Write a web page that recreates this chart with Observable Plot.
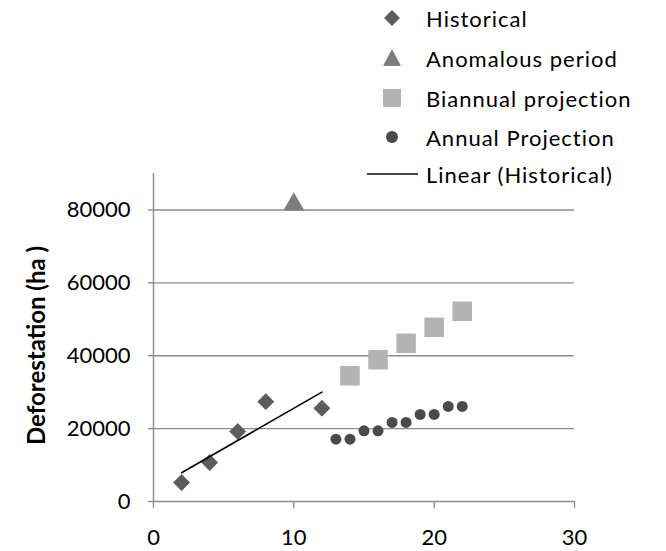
<!DOCTYPE html>
<html>
<head>
<meta charset="utf-8">
<script src="https://cdn.jsdelivr.net/npm/d3@7"></script>
<script src="https://cdn.jsdelivr.net/npm/@observablehq/plot@0.6"></script>
<style>
  html, body { margin: 0; padding: 0; background: #fff; }
  #wrap { position: relative; width: 666px; height: 551px; font-family: Lato, "Open Sans", sans-serif; }
  #legend { position: absolute; left: 0; top: 0; width: 666px; height: 200px; pointer-events: none; }
  .row { position: absolute; left: 360px; height: 30px; display: flex; align-items: center; font-size: 22px; letter-spacing: 1px; color: #000; }
  .row svg { width: 64px; height: 30px; flex: none; }
  .row span { margin-left: 2px; white-space: nowrap; }
</style>
</head>
<body>
<div id="wrap">
  <div id="chart"></div>
  <div id="legend"></div>
</div>
<script>
// ---- data ----
const histX = [2, 4, 6, 8, 12];
const histY = [5200, 10700, 19200, 27400, 25600];
const anomX = [10];
const anomY = [81500];
const biX = [14, 16, 18, 20, 22];
const biY = [34500, 38900, 43400, 47800, 52200];
const annX = [13, 14, 15, 16, 17, 18, 19, 20, 21, 22];
const annY = [17100, 17100, 19400, 19400, 21700, 21700, 23900, 23900, 26100, 26100];
const xTicks = [0, 10, 20, 30];
const yTicks = [0, 20000, 40000, 60000, 80000];
const seriesNames = ["Historical", "Anomalous period", "Biannual projection", "Annual Projection", "Linear (Historical)"];
const yLabel = "Deforestation (ha )";

const zip = (xs, ys) => xs.map((x, i) => ({x, y: ys[i]}));
const hist = zip(histX, histY);
const anom = zip(anomX, anomY);
const bi = zip(biX, biY);
const ann = zip(annX, annY);

const gridColor = "#8c8c8c";
const colors = {hist: "#5c5c5c", anom: "#7d7d7d", bi: "#b3b3b3", ann: "#4a4a4a"};

const chart = Plot.plot({
  width: 666,
  height: 551,
  marginLeft: 153,
  marginRight: 92,
  marginTop: 173,
  marginBottom: 50,
  style: {fontFamily: "Lato, 'Open Sans', sans-serif", fontSize: "22px", background: "white", overflow: "visible"},
  x: {domain: [0, 30]},
  y: {domain: [0, 90000]},
  marks: [
    Plot.gridY(yTicks.slice(1), {stroke: gridColor, strokeOpacity: 1, strokeWidth: 1.4}),
    Plot.ruleY([0], {stroke: gridColor, strokeWidth: 1.4}),
    Plot.ruleX([0], {stroke: gridColor, strokeWidth: 1.4}),
    Plot.axisY(yTicks, {tickSize: 5, tickPadding: 18, stroke: gridColor, strokeWidth: 1.4, fill: "black", tickFormat: d3.format("d"), label: null, fontSize: 22, letterSpacing: "0.6px"}),
    Plot.axisX(xTicks, {tickSize: 7, tickPadding: 21, stroke: gridColor, strokeWidth: 1.4, fill: "black", label: null, fontSize: 22, letterSpacing: "0.6px"}),
    Plot.text([yLabel], {frameAnchor: "left", textAnchor: "middle", dx: -116, dy: 8, rotate: -90, fontWeight: "bold", fontSize: 24, letterSpacing: "1.5px", fill: "black"}),
    Plot.dot(hist, {x: "x", y: "y", symbol: "diamond2", r: 7.6, fill: colors.hist}),
    Plot.dot(anom, {x: "x", y: "y", symbol: "triangle", r: 7.8, fill: colors.anom}),
    Plot.dot(bi, {x: "x", y: "y", symbol: "square", r: 11, fill: colors.bi}),
    Plot.dot(ann, {x: "x", y: "y", symbol: "circle", r: 5.5, fill: colors.ann}),
    Plot.linearRegressionY(hist, {x: "x", y: "y", stroke: "black", strokeWidth: 1.6, ci: 0})
  ]
});
document.getElementById("chart").appendChild(chart);

// ---- legend ----
const symbols = [
  `<path d="M32,7 L40,15 L32,23 L24,15 Z" fill="${colors.hist}"/>`,
  `<path d="M32,6 L41,23 L23,23 Z" fill="${colors.anom}"/>`,
  `<rect x="23" y="6" width="18" height="18" fill="${colors.bi}"/>`,
  `<circle cx="32" cy="15" r="6" fill="${colors.ann}"/>`,
  `<line x1="7" y1="15" x2="58" y2="15" stroke="black" stroke-width="1.6"/>`
];
const rowCenters = [18, 58, 98, 137, 174];
const legend = document.getElementById("legend");
seriesNames.forEach((name, i) => {
  const row = document.createElement("div");
  row.className = "row";
  row.style.top = (rowCenters[i] - 15) + "px";
  row.innerHTML = `<svg viewBox="0 0 64 30">${symbols[i]}</svg><span>${name}</span>`;
  legend.appendChild(row);
});
</script>
</body>
</html>
